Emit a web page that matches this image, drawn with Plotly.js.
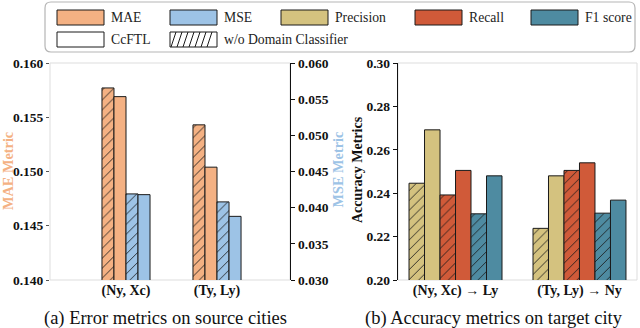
<!DOCTYPE html>
<html>
<head>
<meta charset="utf-8">
<script src="https://cdn.plot.ly/plotly-3.0.1.min.js"></script>
<style>
  html, body { margin: 0; padding: 0; background: white; }
  #chart { width: 640px; height: 328px; }
</style>
</head>
<body>
<div id="chart"></div>
<script>
// (a) error metrics on source cities
var leftGroups = ['(Ny, Xc)', '(Ty, Ly)'];
var maeWo = [0.1577, 0.1543];
var maeCc = [0.1569, 0.1504];
var mseWo = [0.0419, 0.0408];
var mseCc = [0.0418, 0.0388];

// (b) accuracy metrics on target city
var rightGroups = ['(Ny, Xc) → Ly', '(Ty, Ly) → Ny'];
var precWo = [0.2446, 0.2238];
var precCc = [0.2692, 0.2480];
var recWo = [0.2392, 0.2505];
var recCc = [0.2505, 0.2540];
var f1Wo = [0.2305, 0.2308];
var f1Cc = [0.2480, 0.2368];

var C = {
  mae: '#F4B183',
  mse: '#9DC3E6',
  prec: '#D4C27F',
  rec: '#D05A39',
  f1: '#4E8BA1'
};
var SERIF = 'Liberation Serif';
var W = 640, H = 328;

function px(x) { return x / W; }
function py(y) { return 1 - y / H; }

function bar(x, y, color, hatched, xa, ya, offset, width) {
  var t = {
    type: 'bar', x: x, y: y, xaxis: xa, yaxis: ya,
    offset: offset, width: width,
    marker: {color: color, line: {color: '#1a1a1a', width: 1}},
    showlegend: false, hoverinfo: 'skip'
  };
  if (hatched) {
    t.marker.pattern = {shape: '/', fgcolor: '#1a1a1a', bgcolor: color, size: 7, solidity: 0.12};
  }
  return t;
}

var lw = 0.132, rw = 0.125;
var traces = [
  bar(leftGroups, maeWo, C.mae, true, 'x', 'y', -2 * lw, lw),
  bar(leftGroups, maeCc, C.mae, false, 'x', 'y', -lw, lw),
  bar(leftGroups, mseWo, C.mse, true, 'x', 'y2', 0, lw),
  bar(leftGroups, mseCc, C.mse, false, 'x', 'y2', lw, lw),
  bar(rightGroups, precWo, C.prec, true, 'x2', 'y3', -3 * rw, rw),
  bar(rightGroups, precCc, C.prec, false, 'x2', 'y3', -2 * rw, rw),
  bar(rightGroups, recWo, C.rec, true, 'x2', 'y3', -rw, rw),
  bar(rightGroups, recCc, C.rec, false, 'x2', 'y3', 0, rw),
  bar(rightGroups, f1Wo, C.f1, true, 'x2', 'y3', rw, rw),
  bar(rightGroups, f1Cc, C.f1, false, 'x2', 'y3', 2 * rw, rw)
];

var tickFont = {family: SERIF, size: 13.5, color: '#111', weight: 'bold'};
var xTickFont = {family: SERIF, size: 14, color: '#111', weight: 'bold'};
var yDom = [1 - 280 / H, 1 - 63 / H];

var shapes = [
  // light frames
  {type: 'rect', xref: 'x domain', yref: 'y domain', x0: 0, x1: 1, y0: 0, y1: 1,
   line: {color: '#dddddd', width: 1}, layer: 'below'},
  {type: 'rect', xref: 'x2 domain', yref: 'y3 domain', x0: 0, x1: 1, y0: 0, y1: 1,
   line: {color: '#dddddd', width: 1}, layer: 'below'}
];
var annotations = [];

// legend box with rounded corners
(function () {
  var x0 = 45, x1 = 635, y0 = 2, y1 = 52, r = 6;
  var p = 'M' + px(x0 + r) + ',' + py(y0) +
    ' L' + px(x1 - r) + ',' + py(y0) +
    ' Q' + px(x1) + ',' + py(y0) + ' ' + px(x1) + ',' + py(y0 + r) +
    ' L' + px(x1) + ',' + py(y1 - r) +
    ' Q' + px(x1) + ',' + py(y1) + ' ' + px(x1 - r) + ',' + py(y1) +
    ' L' + px(x0 + r) + ',' + py(y1) +
    ' Q' + px(x0) + ',' + py(y1) + ' ' + px(x0) + ',' + py(y1 - r) +
    ' L' + px(x0) + ',' + py(y0 + r) +
    ' Q' + px(x0) + ',' + py(y0) + ' ' + px(x0 + r) + ',' + py(y0) + ' Z';
  shapes.push({type: 'path', xref: 'paper', yref: 'paper', path: p,
    line: {color: '#b5b5b5', width: 1.2}, fillcolor: 'white'});
})();

var legendItems = [
  {x: 57, y: 10, fill: C.mae, text: 'MAE'},
  {x: 170, y: 10, fill: C.mse, text: 'MSE'},
  {x: 281, y: 10, fill: C.prec, text: 'Precision'},
  {x: 415, y: 10, fill: C.rec, text: 'Recall'},
  {x: 531, y: 10, fill: C.f1, text: 'F1 score'},
  {x: 57, y: 32, fill: 'white', text: 'CcFTL'},
  {x: 170, y: 32, fill: 'white', text: 'w/o Domain Classifier', hatch: true}
];
legendItems.forEach(function (it) {
  var sw = 47, sh = 15;
  shapes.push({type: 'rect', xref: 'paper', yref: 'paper',
    x0: px(it.x), x1: px(it.x + sw), y0: py(it.y + sh), y1: py(it.y),
    fillcolor: it.fill, line: {color: '#1a1a1a', width: 1}});
  if (it.hatch) {
    var d = '';
    for (var hx = it.x + 1; hx + 5 <= it.x + sw; hx += 6) {
      d += 'M' + px(hx) + ',' + py(it.y + sh) + ' L' + px(hx + 5) + ',' + py(it.y) + ' ';
    }
    shapes.push({type: 'path', xref: 'paper', yref: 'paper', path: d,
      line: {color: '#1a1a1a', width: 1}});
  }
  annotations.push({xref: 'paper', yref: 'paper', x: px(it.x + sw + 5), y: py(it.y + sh / 2),
    xanchor: 'left', yanchor: 'middle', showarrow: false, text: it.text,
    font: {family: SERIF, size: 13.7, color: '#222'}});
});

// axis titles
function note(x, y, text, size, color, angle) {
  return {xref: 'paper', yref: 'paper', x: px(x), y: py(y), xanchor: 'center', yanchor: 'middle',
    textangle: angle || 0, showarrow: false, text: text, borderpad: 0,
    font: {family: SERIF, size: size, color: color}};
}
annotations.push(
  note(8, 171, '<b>MAE Metric</b>', 14.3, C.mae, -90),
  note(337.5, 170, '<b>MSE Metric</b>', 14.3, C.mse, -90),
  note(357, 170, '<b>Accuracy Metrics</b>', 14, '#111', -90),
  // captions
  note(165, 318, '(a) Error metrics on source cities', 18.5, '#111'),
  note(494, 318, '(b) Accuracy metrics on target city', 18.5, '#111')
);

var layout = {
  width: W, height: H,
  margin: {l: 0, r: 0, t: 0, b: 0},
  paper_bgcolor: 'white', plot_bgcolor: 'white',
  barmode: 'overlay',
  showlegend: false,
  font: {family: SERIF},
  xaxis: {domain: [px(50), px(290)], anchor: 'y', type: 'category',
    range: [-0.835, 1.802], showgrid: false, zeroline: false, showline: false,
    ticks: '', tickfont: xTickFont},
  yaxis: {domain: yDom, anchor: 'x', range: [0.140, 0.160], dtick: 0.005, tick0: 0.140,
    tickformat: '.3f', showgrid: false, zeroline: false, showline: false,
    ticks: 'outside', ticklen: 3, tickcolor: '#555', tickfont: tickFont},
  yaxis2: {overlaying: 'y', side: 'right', anchor: 'x', range: [0.030, 0.060], dtick: 0.005,
    tick0: 0.030, tickformat: '.3f', showgrid: false, zeroline: false,
    showline: true, linecolor: '#111', linewidth: 1.3,
    ticks: 'outside', ticklen: 4, tickcolor: '#111', tickfont: tickFont},
  xaxis2: {domain: [px(398), px(637)], anchor: 'y3', type: 'category',
    range: [-0.464, 1.464], showgrid: false, zeroline: false, showline: false,
    ticks: '', tickfont: xTickFont},
  yaxis3: {domain: yDom, anchor: 'x2', range: [0.20, 0.30], dtick: 0.02, tick0: 0.20,
    tickformat: '.2f', showgrid: false, zeroline: false,
    showline: true, linecolor: '#111', linewidth: 1.3,
    ticks: 'outside', ticklen: 4, tickcolor: '#111', tickfont: tickFont},
  shapes: shapes,
  annotations: annotations
};

Plotly.newPlot('chart', traces, layout, {displayModeBar: false, staticPlot: true});
</script>
</body>
</html>
